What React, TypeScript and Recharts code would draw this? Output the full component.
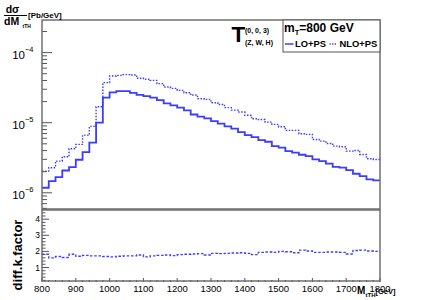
import React from "react";
import { LineChart, Line, XAxis, YAxis } from "recharts";

// lower edges of the 20 GeV bins
const binLow = [
  800, 820, 840, 860, 880, 900, 920, 940, 960, 980,
  1000, 1020, 1040, 1060, 1080, 1100, 1120, 1140, 1160, 1180,
  1200, 1220, 1240, 1260, 1280, 1300, 1320, 1340, 1360, 1380,
  1400, 1420, 1440, 1460, 1480, 1500, 1520, 1540, 1560, 1580,
  1600, 1620, 1640, 1660, 1680, 1700, 1720, 1740, 1760, 1780,
];
const lastEdge = 1800;

// dsigma/dM [Pb/GeV]
const loPs = [
  1.18e-6, 1.47e-6, 1.67e-6, 2.08e-6, 2.32e-6, 2.96e-6, 3.8e-6, 5.18e-6, 1.0e-5, 2.28e-5,
  2.71e-5, 2.83e-5, 2.83e-5, 2.67e-5, 2.49e-5, 2.4e-5, 2.28e-5, 2.1e-5, 1.89e-5, 1.77e-5,
  1.64e-5, 1.5e-5, 1.31e-5, 1.22e-5, 1.15e-5, 1.05e-5, 9.68e-6, 8.85e-6, 8.21e-6, 7.34e-6,
  6.65e-6, 6.23e-6, 5.64e-6, 5.35e-6, 4.63e-6, 4.4e-6, 3.93e-6, 3.73e-6, 3.49e-6, 3.33e-6,
  2.99e-6, 2.83e-6, 2.6e-6, 2.35e-6, 2.28e-6, 2.1e-6, 1.87e-6, 1.73e-6, 1.55e-6, 1.5e-6,
];
const nloPs = [
  2.04e-6, 2.28e-6, 2.83e-6, 3.27e-6, 4.25e-6, 4.9e-6, 6.65e-6, 8.85e-6, 1.69e-5, 3.73e-5,
  4.64e-5, 4.74e-5, 4.85e-5, 4.79e-5, 4.3e-5, 4.16e-5, 4.02e-5, 3.61e-5, 3.23e-5, 3.09e-5,
  2.89e-5, 2.68e-5, 2.48e-5, 2.2e-5, 2.15e-5, 1.93e-5, 1.82e-5, 1.64e-5, 1.51e-5, 1.42e-5,
  1.28e-5, 1.14e-5, 1.11e-5, 1.02e-5, 9.46e-6, 8.77e-6, 7.76e-6, 7.76e-6, 6.97e-6, 6.81e-6,
  5.77e-6, 5.46e-6, 5.06e-6, 4.63e-6, 4.54e-6, 3.93e-6, 4.02e-6, 3.52e-6, 3.06e-6, 2.99e-6,
];
const kFactor = [
  1.82, 1.6, 1.68, 1.62, 1.82, 1.7, 1.75, 1.72, 1.72, 1.68,
  1.66, 1.7, 1.72, 1.72, 1.78, 1.66, 1.72, 1.75, 1.78, 1.74,
  1.8, 1.82, 1.84, 1.86, 1.78, 1.88, 1.86, 1.88, 1.9, 1.92,
  1.88, 1.8, 1.94, 1.96, 1.94, 2.0, 1.98, 1.92, 2.08, 2.02,
  1.94, 1.94, 1.96, 1.96, 1.94, 1.84, 2.06, 2.08, 2.02, 2.0,
];

const xTicks = [
  800, 820, 840, 860, 880, 900, 920, 940, 960, 980,
  1000, 1020, 1040, 1060, 1080, 1100, 1120, 1140, 1160, 1180,
  1200, 1220, 1240, 1260, 1280, 1300, 1320, 1340, 1360, 1380,
  1400, 1420, 1440, 1460, 1480, 1500, 1520, 1540, 1560, 1580,
  1600, 1620, 1640, 1660, 1680, 1700, 1720, 1740, 1760, 1780, 1800,
];
const xLabels = [800, 900, 1000, 1100, 1200, 1300, 1400, 1500, 1600, 1700, 1800];
const logTicks = [
  6e-7, 7e-7, 8e-7, 9e-7,
  1e-6, 2e-6, 3e-6, 4e-6, 5e-6, 6e-6, 7e-6, 8e-6, 9e-6,
  1e-5, 2e-5, 3e-5, 4e-5, 5e-5, 6e-5, 7e-5, 8e-5, 9e-5,
  1e-4, 2e-4,
];
const logLabels = [1e-6, 1e-5, 1e-4];
const ratioTicks = [
  0.2, 0.4, 0.6, 0.8, 1, 1.2, 1.4, 1.6, 1.8, 2, 2.2, 2.4, 2.6, 2.8, 3,
  3.2, 3.4, 3.6, 3.8, 4, 4.2, 4.4,
];
const ratioLabels = [1, 2, 3, 4];

const FONT = "'Liberation Sans', Arial, Helvetica, sans-serif";
const BLUE = "#3c3cff";
const TICK = "#555";
const Y_W = 30; // y axis band, kept left of the frame at x=42

const histData = binLow.map((x, i) => ({ x, lo: loPs[i], nlo: nloPs[i] }));
histData.push({ x: lastEdge, lo: loPs[loPs.length - 1], nlo: nloPs[nloPs.length - 1] });
const ratioData = binLow.map((x, i) => ({ x, k: kFactor[i] }));
ratioData.push({ x: lastEdge, k: kFactor[kFactor.length - 1] });

const UpperXTick = (p: any) => {
  const major = xLabels.includes(p.payload.value);
  return <line x1={p.x} x2={p.x} y1={p.y} y2={p.y - (major ? 6 : 3)} stroke={TICK} />;
};

const LowerXTick = (p: any) => {
  const major = xLabels.includes(p.payload.value);
  return (
    <g>
      <line x1={p.x} x2={p.x} y1={p.y} y2={p.y - (major ? 4 : 2)} stroke={TICK} />
      {major && (
        <text x={p.x} y={p.y + 9.5} textAnchor="middle" fontSize={9.5} fontFamily={FONT} fill="#000">
          {p.payload.value}
        </text>
      )}
    </g>
  );
};

const LogYTick = (p: any) => {
  const v = p.payload.value;
  const major = logLabels.some((m) => Math.abs(m - v) / m < 1e-6);
  const exp = Math.round(Math.log10(v));
  return (
    <g>
      <line x1={p.x} x2={p.x + (major ? 10 : 5)} y1={p.y} y2={p.y} stroke={TICK} />
      {major && (
        <text x={p.x - 8.5} y={p.y + 6.5} textAnchor="end" fontSize={11.5} fontFamily={FONT} fill="#000">
          10<tspan fontSize={7.5} dy={-7}>{"\u2212" + Math.abs(exp)}</tspan>
        </text>
      )}
    </g>
  );
};

const RatioYTick = (p: any) => {
  const v = p.payload.value;
  const major = ratioLabels.includes(v);
  return (
    <g>
      <line x1={p.x} x2={p.x + (major ? 7 : 3.5)} y1={p.y} y2={p.y} stroke={TICK} />
      {major && (
        <text x={p.x - 2} y={p.y + 3} textAnchor="end" fontSize={8.5} fontFamily={FONT} fill="#000">
          {v}
        </text>
      )}
    </g>
  );
};

export default function App() {
  return (
    <div style={{ position: "absolute", left: 0, top: 0, width: 422, height: 300, background: "#fff", fontFamily: FONT }}>
      <div style={{ position: "absolute", left: 0, top: 0 }}>
        <LineChart width={422} height={210} data={histData} margin={{ top: 20, right: 42, bottom: 1, left: 42 - Y_W }}>
          <XAxis
            dataKey="x"
            type="number"
            domain={[800, 1800]}
            ticks={xTicks}
            interval={0}
            height={0}
            tickSize={0}
            tickMargin={0}
            axisLine={false}
            tickLine={false}
            tick={UpperXTick}
          />
          <YAxis
            type="number"
            scale="log"
            domain={[5.87e-7, 2.92e-4]}
            allowDataOverflow
            ticks={logTicks}
            interval={0}
            width={Y_W}
            tickSize={0}
            tickMargin={0}
            axisLine={false}
            tickLine={false}
            tick={LogYTick}
          />
          <Line type="stepAfter" dataKey="lo" stroke={BLUE} strokeWidth={1.8} dot={false} isAnimationActive={false} />
          <Line
            type="stepAfter"
            dataKey="nlo"
            stroke={BLUE}
            strokeWidth={1.4}
            strokeDasharray="1.5 1.5"
            dot={false}
            isAnimationActive={false}
          />
        </LineChart>
      </div>
      <div style={{ position: "absolute", left: 0, top: 209 }}>
        <LineChart width={422} height={91} data={ratioData} margin={{ top: 1, right: 42, bottom: 0, left: 42 - Y_W }}>
          <XAxis
            dataKey="x"
            type="number"
            domain={[800, 1800]}
            ticks={xTicks}
            interval={0}
            height={18}
            tickSize={0}
            tickMargin={0}
            axisLine={false}
            tickLine={false}
            tick={LowerXTick}
          />
          <YAxis
            type="number"
            domain={[0.1, 4.57]}
            allowDataOverflow
            ticks={ratioTicks}
            interval={0}
            width={Y_W}
            tickSize={0}
            tickMargin={0}
            axisLine={false}
            tickLine={false}
            tick={RatioYTick}
          />
          <Line
            type="stepAfter"
            dataKey="k"
            stroke={BLUE}
            strokeWidth={1.4}
            strokeDasharray="2.5 1.8"
            dot={false}
            isAnimationActive={false}
          />
        </LineChart>
      </div>
      <svg width={422} height={300} style={{ position: "absolute", left: 0, top: 0, pointerEvents: "none" }}>
        <rect x={42} y={20} width={338} height={189} fill="none" stroke="#666" strokeWidth={1.4} />
        <rect x={42} y={210} width={338} height={71} fill="none" stroke="#666" strokeWidth={1.4} />

        {/* y title, upper panel */}
        <g fontFamily={FONT} fontWeight="bold" fill="#000">
          <text x={12.5} y={13.3} textAnchor="middle" fontSize={10.5}>{"d\u03c3"}</text>
          <line x1={4} x2={27} y1={15.5} y2={15.5} stroke="#000" strokeWidth={1} />
          <text x={4} y={25.3} fontSize={10.5}>dM</text>
          <text x={22.5} y={28.3} fontSize={5}>tTH</text>
          <text x={28} y={18.3} fontSize={8}>[Pb/GeV]</text>
        </g>

        {/* y title, ratio panel */}
        <text
          x={21.5}
          y={255}
          transform="rotate(-90 21.5 255)"
          textAnchor="middle"
          fontSize={13}
          fontWeight="bold"
          fontFamily={FONT}
          fill="#000"
        >
          diff.k.factor
        </text>

        {/* x title */}
        <g fontFamily={FONT} fontWeight="bold" fill="#000">
          <text x={357} y={294} fontSize={10}>M</text>
          <text x={365.5} y={297} fontSize={6}>tTH</text>
          <text x={375.5} y={294} fontSize={7.5}>[GeV]</text>
        </g>

        {/* model label */}
        <g fontFamily={FONT} fontWeight="bold" fill="#000">
          <text x={231.5} y={41.7} fontSize={22.5}>T</text>
          <text x={245} y={33.3} fontSize={7}>(0, 0, 3)</text>
          <text x={245} y={45} fontSize={7}>(Z, W, H)</text>
        </g>

        {/* legend */}
        <rect x={283} y={20} width={97} height={32} fill="#fff" stroke="#555" strokeWidth={1} />
        <g fontFamily={FONT} fontWeight="bold" fill="#000">
          <text x={284} y={32} fontSize={12}>
            m<tspan fontSize={7.5} dy={3}>T</tspan>
            <tspan dy={-3}>=800 GeV</tspan>
          </text>
          <line x1={285} x2={293.5} y1={44} y2={44} stroke={BLUE} strokeWidth={1.5} />
          <text x={295} y={47.3} fontSize={9.4}>LO+PS</text>
          <line x1={329.5} x2={337} y1={44} y2={44} stroke={BLUE} strokeWidth={1.3} strokeDasharray="1.3 1.3" />
          <text x={339.5} y={47.3} fontSize={9.4}>NLO+PS</text>
        </g>
      </svg>
    </div>
  );
}
